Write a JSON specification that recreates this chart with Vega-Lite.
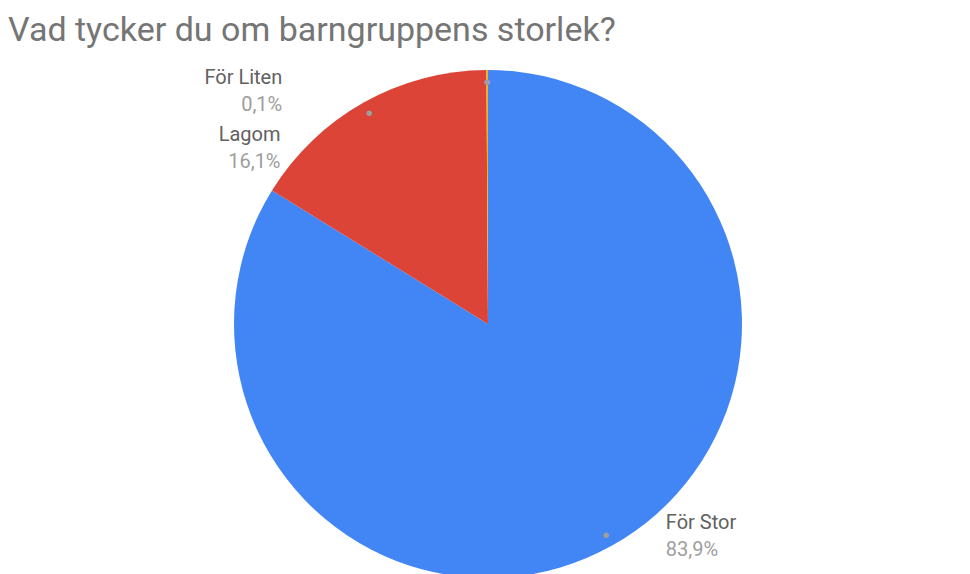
{
  "$schema": "https://vega.github.io/schema/vega-lite/v6.json",
  "width": 960,
  "height": 500,
  "autosize": "none",
  "padding": {"left": 8, "top": 74, "right": 2, "bottom": 0},
  "background": "white",
  "title": {
    "text": "Vad tycker du om barngruppens storlek?",
    "anchor": "start",
    "frame": "group",
    "font": "Roboto",
    "fontSize": 34,
    "fontWeight": "normal",
    "color": "#757575",
    "offset": 12
  },
  "data": {
    "values": [
      {"kategori": "För Stor", "andel": 0.839},
      {"kategori": "Lagom", "andel": 0.161},
      {"kategori": "För Liten", "andel": 0.001}
    ]
  },
  "encoding": {
    "theta": {"field": "andel", "type": "quantitative", "stack": true},
    "order": {"field": "andel", "type": "quantitative", "sort": "descending"}
  },
  "layer": [
    {
      "mark": {"type": "arc", "outerRadius": 254},
      "encoding": {
        "color": {
          "field": "kategori",
          "type": "nominal",
          "scale": {"domain": ["För Stor", "Lagom", "För Liten"], "range": ["#4285F4", "#DB4437", "#F4B400"]},
          "legend": null
        }
      }
    },
    {
      "mark": {"type": "text", "radius": 242, "text": "●", "fontSize": 13, "color": "#9E9E9E", "align": "center", "baseline": "middle"}
    },
    {
      "mark": {"type": "text", "radius": 242, "align": "left", "baseline": "alphabetic", "dx": 60, "dy": -6, "font": "Roboto", "fontSize": 20, "color": "#616161"},
      "encoding": {"text": {"condition": {"test": "datum.kategori === 'För Stor'", "field": "kategori", "type": "nominal"}, "value": ""}}
    },
    {
      "mark": {"type": "text", "radius": 242, "align": "left", "baseline": "alphabetic", "dx": 60, "dy": 21, "font": "Roboto", "fontSize": 20, "color": "#9E9E9E"},
      "encoding": {"text": {"condition": {"test": "datum.kategori === 'För Stor'", "field": "andel", "type": "quantitative", "format": ".1%"}, "value": ""}}
    },
    {
      "mark": {"type": "text", "radius": 242, "align": "right", "baseline": "alphabetic", "dx": -89, "dy": 28, "font": "Roboto", "fontSize": 20, "color": "#616161"},
      "encoding": {"text": {"condition": {"test": "datum.kategori === 'Lagom'", "field": "kategori", "type": "nominal"}, "value": ""}}
    },
    {
      "mark": {"type": "text", "radius": 242, "align": "right", "baseline": "alphabetic", "dx": -89, "dy": 55, "font": "Roboto", "fontSize": 20, "color": "#9E9E9E"},
      "encoding": {"text": {"condition": {"test": "datum.kategori === 'Lagom'", "field": "andel", "type": "quantitative", "format": ".1%"}, "value": ""}}
    },
    {
      "mark": {"type": "text", "radius": 242, "align": "right", "baseline": "alphabetic", "dx": -205, "dy": 2, "font": "Roboto", "fontSize": 20, "color": "#616161"},
      "encoding": {"text": {"condition": {"test": "datum.kategori === 'För Liten'", "field": "kategori", "type": "nominal"}, "value": ""}}
    },
    {
      "mark": {"type": "text", "radius": 242, "align": "right", "baseline": "alphabetic", "dx": -205, "dy": 29, "font": "Roboto", "fontSize": 20, "color": "#9E9E9E"},
      "encoding": {"text": {"condition": {"test": "datum.kategori === 'För Liten'", "field": "andel", "type": "quantitative", "format": ".1%"}, "value": ""}}
    }
  ],
  "config": {
    "view": {"stroke": null},
    "locale": {"number": {"decimal": ",", "thousands": " ", "grouping": [3], "currency": ["", " kr"]}}
  }
}
